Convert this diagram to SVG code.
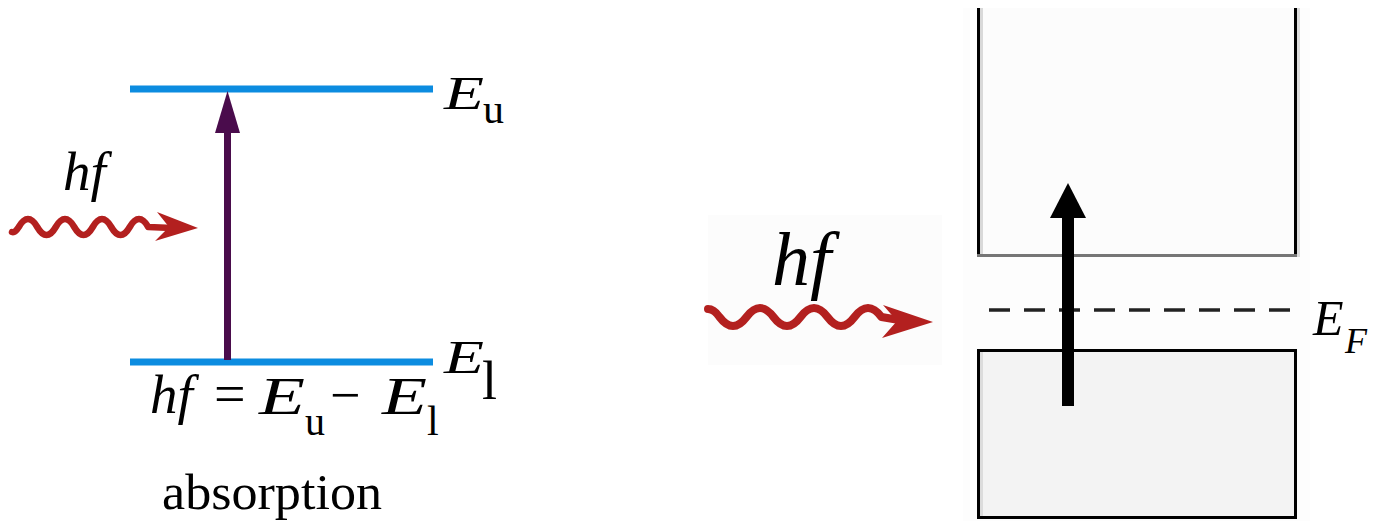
<svg xmlns="http://www.w3.org/2000/svg" width="1376" height="521" viewBox="0 0 1376 521">
  <style>
    .t { font-family: "Liberation Serif", "Times New Roman", "DejaVu Serif", serif; fill: #000; }
    .i { font-style: italic; }
    .lvl { stroke: #0c8ce0; stroke-width: 7; fill: none; }
    .wave { stroke: #b3201f; fill: none; stroke-linecap: round; stroke-linejoin: round; }
    .head { fill: #b3201f; }
  </style>
  <rect width="1376" height="521" fill="#ffffff"/>

  <!-- Left: absorption level diagram -->
  <g id="level-upper">
    <line class="lvl" x1="130" y1="89" x2="433" y2="89"/>
    <text class="t i" x="444" y="109" font-size="47" textLength="40" lengthAdjust="spacingAndGlyphs">E</text>
    <text class="t" x="483" y="123" font-size="42">u</text>
  </g>
  <g id="level-lower">
    <line class="lvl" x1="130" y1="362" x2="433" y2="362"/>
    <text class="t i" x="444" y="373" font-size="47" textLength="40" lengthAdjust="spacingAndGlyphs">E</text>
    <text class="t" x="482" y="399" font-size="54">l</text>
  </g>
  <g id="photon-left">
    <text class="t i" x="63" y="190" font-size="55">hf</text>
  </g>
  <g id="equation">
    <text class="t i" x="150" y="413" font-size="55">hf</text>
    <text class="t" x="214" y="413" font-size="56">=</text>
    <text class="t i" x="259" y="414" font-size="52" textLength="46" lengthAdjust="spacingAndGlyphs">E</text>
    <text class="t" x="305" y="435" font-size="40">u</text>
    <text class="t" x="330" y="413" font-size="54">−</text>
    <text class="t i" x="382" y="414" font-size="52" textLength="45" lengthAdjust="spacingAndGlyphs">E</text>
    <text class="t" x="427" y="435" font-size="42">l</text>
  </g>
  <g id="caption">
    <text class="t" x="162" y="509" font-size="51" textLength="220" lengthAdjust="spacingAndGlyphs">absorption</text>
  </g>

  <!-- Right: band diagram -->
  <g id="background-right">
    <rect x="963" y="8" width="347" height="513" fill="#fdfdfd"/>
    <rect x="708" y="215" width="234" height="150" fill="#fcfcfc"/>
  </g>
  <g id="conduction-band">
    <rect x="978" y="8" width="318" height="247" fill="#fcfcfc"/>
    <rect x="980" y="8" width="3" height="246" fill="#d9d9d9"/>
    <rect x="1297" y="8" width="3" height="249" fill="#dddddd"/>
    <line x1="978.5" y1="8" x2="978.5" y2="256" stroke="#000" stroke-width="3"/>
    <line x1="1295.5" y1="8" x2="1295.5" y2="256" stroke="#000" stroke-width="3"/>
    <line x1="977" y1="255.5" x2="1297" y2="255.5" stroke="#767676" stroke-width="3"/>
  </g>
  <g id="valence-band">
    <rect x="978.5" y="350.5" width="317" height="167" fill="#f3f3f3" stroke="#000" stroke-width="3"/>
    <rect x="980" y="352" width="3" height="164" fill="#dcdcdc"/>
  </g>
  <g id="fermi-level">
    <line x1="989" y1="310" x2="1293" y2="310" stroke="#222" stroke-width="3.5" stroke-dasharray="21 14"/>
    <text class="t i" x="1313" y="335" font-size="50">E</text>
    <text class="t i" x="1345" y="353" font-size="36">F</text>
  </g>
  <g id="photon-right">
    <text class="t i" x="772" y="285" font-size="76">hf</text>
  </g>

  <!-- Connectors -->
  <g id="connectors">
    <!-- purple transition arrow -->
    <line x1="227.5" y1="360" x2="227.5" y2="128" stroke="#4a0c4c" stroke-width="7"/>
    <polygon points="227.5,91 215,133 240,133" fill="#4a0c4c"/>
    <!-- left photon wave -->
    <path class="wave" stroke-width="6.5" d="M12,232 Q15,233 18.75,227 Q28,211 37.25,227 T55.75,227 T74.25,227 T92.75,227 T111.25,227 T129.75,227 T148.25,227 L172,228"/>
    <polygon class="head" points="198,228 157,212 169,227 155,241"/>
    <!-- right photon wave -->
    <path class="wave" stroke-width="8" d="M708,309 Q714,309 719.5,317 Q733,335 746.5,317 T773.5,317 T800.5,317 T827.5,317 T854.5,317 T881.5,317 L905,321"/>
    <polygon class="head" points="933,322 883,305 897,321 882,338"/>
    <!-- black excitation arrow -->
    <line x1="1068" y1="406" x2="1068" y2="214" stroke="#000" stroke-width="12"/>
    <polygon points="1068,183 1050,218 1086,218" fill="#000"/>
  </g>
</svg>
